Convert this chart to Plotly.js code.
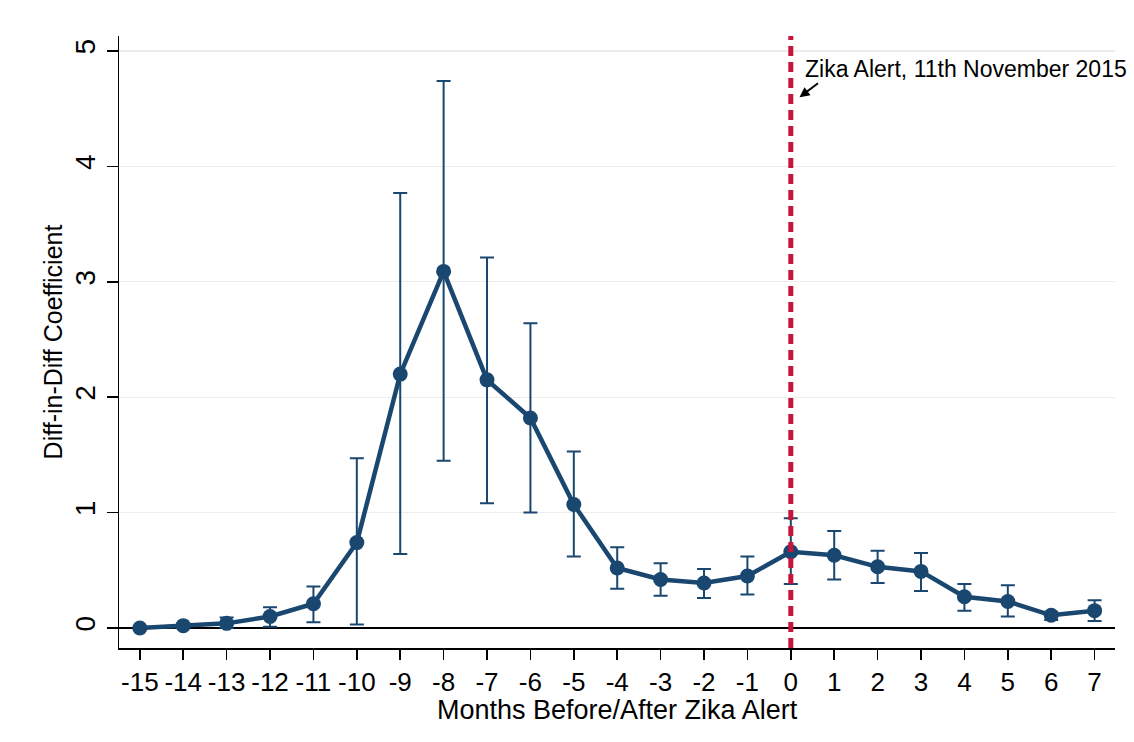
<!DOCTYPE html>
<html>
<head>
<meta charset="utf-8">
<script src="https://cdn.plot.ly/plotly-3.0.1.min.js"></script>
<style>html,body{margin:0;padding:0;background:#fff}#chart{width:1134px;height:742px}</style>
</head>
<body>
<div id="chart"></div>
<script>
var months = [-15,-14,-13,-12,-11,-10,-9,-8,-7,-6,-5,-4,-3,-2,-1,0,1,2,3,4,5,6,7];
var coef   = [0.00,0.02,0.04,0.10,0.21,0.74,2.20,3.09,2.15,1.82,1.07,0.52,0.42,0.39,0.45,0.66,0.63,0.53,0.49,0.27,0.23,0.11,0.15];
var ciLow  = [-0.01,0.00,0.00,0.01,0.05,0.03,0.64,1.45,1.08,1.00,0.62,0.34,0.28,0.26,0.29,0.38,0.42,0.39,0.32,0.15,0.10,0.07,0.06];
var ciHigh = [0.01,0.04,0.09,0.18,0.36,1.47,3.77,4.74,3.21,2.64,1.53,0.70,0.56,0.51,0.62,0.95,0.84,0.67,0.65,0.38,0.37,0.14,0.24];
var tickLabels = months.map(String);
var xTitle = "Months Before/After Zika Alert";
var yTitle = "Diff-in-Diff Coefficient";
var alertText = "Zika Alert, 11th November 2015";

var navy = "#1a476f";
var errPlus = ciHigh.map(function(h,i){return h - coef[i];});
var errMinus = ciLow.map(function(l,i){return coef[i] - l;});

var trace = {
  x: months, y: coef, type: "scatter", mode: "lines+markers",
  line: {color: navy, width: 4.5},
  marker: {color: navy, size: 15, symbol: "circle"},
  error_y: {type: "data", symmetric: false, array: errPlus, arrayminus: errMinus,
            color: navy, thickness: 2, width: 7},
  hoverinfo: "skip", showlegend: false
};

var font = "Liberation Sans, Arial, sans-serif";
var layout = {
  width: 1134, height: 742,
  margin: {l: 119, r: 19, t: 36, b: 94, pad: 0},
  paper_bgcolor: "#fff", plot_bgcolor: "#fff",
  font: {family: font, color: "#000"},
  showlegend: false,
  xaxis: {
    range: [-15.48, 7.47], tickmode: "array", tickvals: months, ticktext: tickLabels,
    ticks: "outside", ticklen: 10, tickwidth: 1.5, tickcolor: "#000",
    tickfont: {size: 26, family: font, color: "#000"},
    showgrid: false, zeroline: false, showline: true, linecolor: "#000", linewidth: 1.5
  },
  yaxis: {
    range: [-0.1736, 5.13], tickvals: [0,1,2,3,4,5], ticktext: ["0","1","2","3","4","5"],
    ticks: "outside", ticklen: 11, tickwidth: 1.5, tickcolor: "#000", tickangle: -90,
    tickfont: {size: 28, family: font, color: "#000"},
    showgrid: true, gridcolor: "#ececec", gridwidth: 1.2,
    zeroline: true, zerolinecolor: "#000", zerolinewidth: 1.8,
    showline: true, linecolor: "#000", linewidth: 1.5,
    title: {text: yTitle, font: {size: 25, family: font, color: "#000"}, standoff: 0}
  },
  shapes: [{
    type: "line", xref: "x", yref: "paper", x0: 0, x1: 0, y0: 0, y1: 1,
    line: {color: "#c8143c", width: 5, dash: "10px,6px"}, layer: "above"
  }],
  annotations: [
    {x: 0.5, y: 0, xref: "paper", yref: "paper", text: xTitle, showarrow: false,
     xanchor: "center", yanchor: "middle", yshift: -62,
     font: {size: 27, family: font, color: "#000"}},
    {x: 0.27, y: 4.84, xref: "x", yref: "y", text: alertText, showarrow: false,
     xanchor: "left", yanchor: "middle", font: {size: 23, family: font, color: "#000"}},
    {x: 0.2, y: 4.6, xref: "x", yref: "y", text: "", showarrow: true,
     ax: 20, ay: -15, arrowhead: 2, arrowsize: 1, arrowwidth: 2, arrowcolor: "#000"}
  ]
};

Plotly.newPlot("chart", [trace], layout, {staticPlot: true, displayModeBar: false});
</script>
</body>
</html>
